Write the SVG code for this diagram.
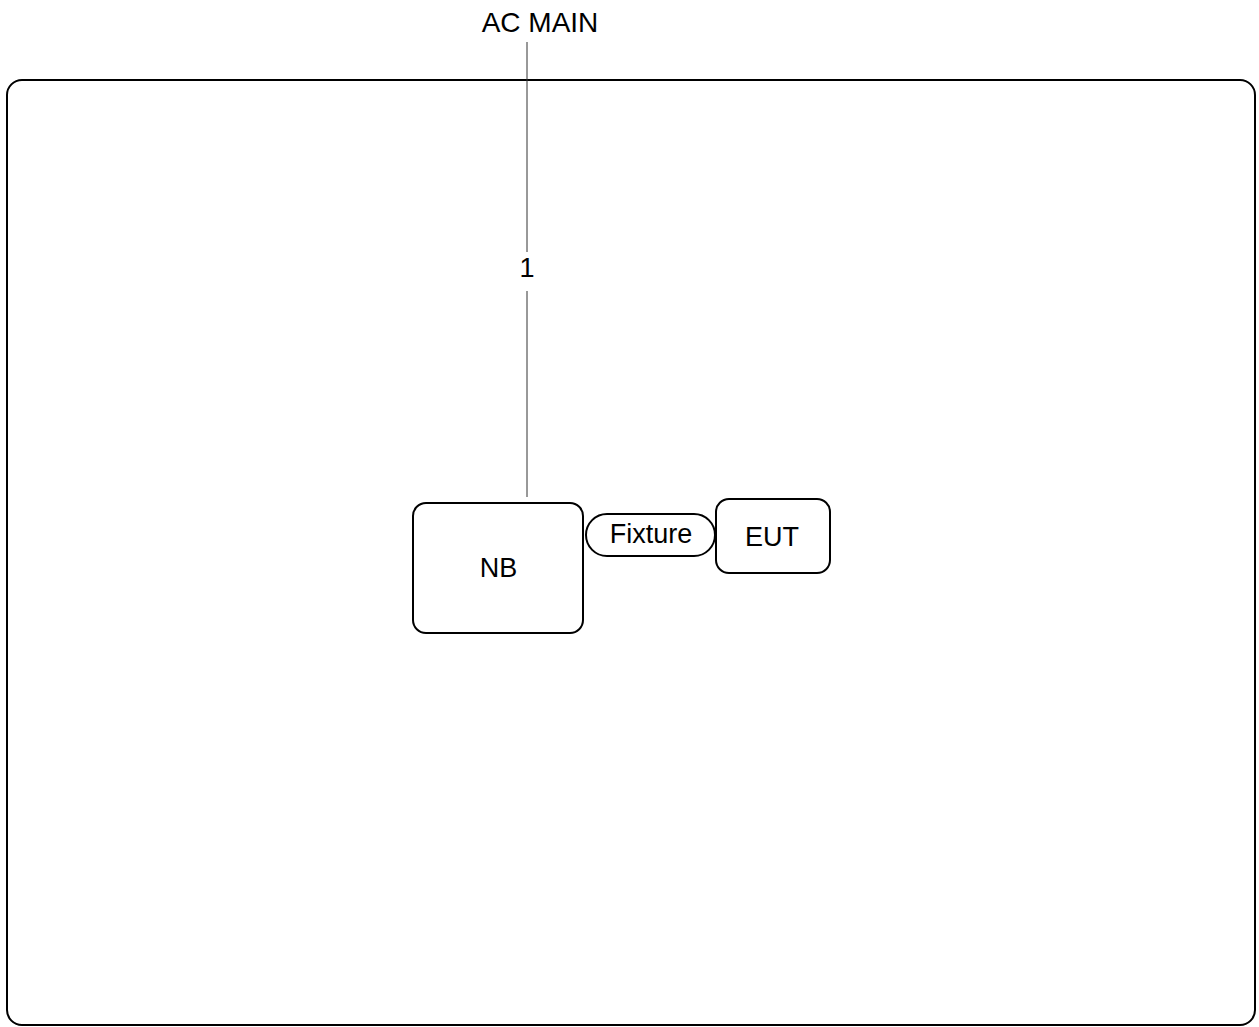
<svg xmlns="http://www.w3.org/2000/svg" width="1259" height="1027" viewBox="0 0 1259 1027">
<style>
text{font-family:"Liberation Sans",Arial,sans-serif;font-size:27px;fill:#000;text-anchor:middle}
.box{fill:#fff;stroke:#000;stroke-width:2}
.wire{stroke:#333;stroke-width:1;fill:none}
</style>
<rect width="1259" height="1027" fill="#fff"/>
<g id="frame"><rect class="box" x="7" y="80" width="1248" height="945" rx="15" ry="15" fill="none"/></g>
<g id="connectors">
<line class="wire" x1="527" y1="42" x2="527" y2="252"/>
<line class="wire" x1="527" y1="291" x2="527" y2="497"/>
<text x="527" y="277">1</text>
</g>
<g id="acmain"><text x="540" y="32" style="font-size:28px">AC MAIN</text></g>
<g id="nb"><rect class="box" x="413" y="503" width="170" height="130" rx="13"/><text x="498.5" y="577">NB</text></g>
<g id="fixture"><rect class="box" x="586" y="514" width="129" height="42" rx="21"/><text x="651" y="543">Fixture</text></g>
<g id="eut"><rect class="box" x="716" y="499" width="114" height="74" rx="13"/><text x="772" y="546">EUT</text></g>
</svg>
